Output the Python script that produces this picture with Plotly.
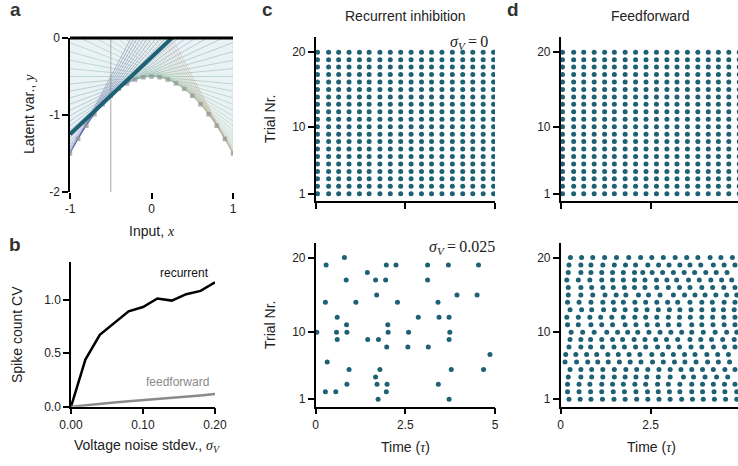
import numpy as np
import plotly.graph_objects as go

W, H = 738, 466

# ---------------- DATA ----------------
# Panel a: theoretical curve y = -0.5 - x^2, tangent points, highlighted input
tangent_points = [-1.0, -0.95, -0.9, -0.85, -0.8, -0.75, -0.7, -0.65, -0.6, -0.55, -0.5,
                  -0.45, -0.4, -0.35, -0.3, -0.25, -0.2, -0.15, -0.1, -0.05, 0.0,
                  0.05, 0.1, 0.15, 0.2, 0.25, 0.3, 0.35, 0.4, 0.45, 0.5,
                  0.55, 0.6, 0.65, 0.7, 0.75, 0.8, 0.85, 0.9, 0.95, 1.0]
curve_dots_x = [-1.0, -0.9, -0.8, -0.7, -0.6, -0.5, -0.4, -0.3, -0.2, -0.1, 0.0,
                0.1, 0.2, 0.3, 0.4, 0.5, 0.6, 0.7, 0.8, 0.9, 1.0]
highlight_x = -0.5

# Panel b
noise_sd = [0.0, 0.02, 0.04, 0.06, 0.08, 0.10, 0.12, 0.14, 0.16, 0.18, 0.20]
cv_recurrent = [0.0, 0.44, 0.67, 0.78, 0.89, 0.93, 1.01, 0.99, 1.05, 1.08, 1.16]
cv_feedforward = [0.0, 0.015, 0.028, 0.04, 0.05, 0.06, 0.07, 0.08, 0.09, 0.105, 0.118]

# Panels c/d top: regular spiking (sigma_V = 0), same times on all 20 trials
regular_times = [0.05, 0.36, 0.64, 0.93, 1.22, 1.49, 1.79, 2.08, 2.37, 2.66,
                 2.95, 3.23, 3.52, 3.81, 4.10, 4.38, 4.67, 4.96]
trials = list(range(1, 21))

# Panel c bottom: recurrent, sigma_V = 0.025 (spike times per trial)
rec_noisy = {
    20: [0.80],
    19: [0.29, 1.97, 2.24, 3.12, 3.70, 4.54],
    18: [1.44],
    17: [0.85, 1.67, 1.95, 3.12],
    15: [1.70, 3.94, 4.50],
    14: [0.27, 1.12, 2.28, 3.41],
    12: [0.60, 2.86, 3.44, 3.72],
    11: [0.86, 2.01],
    10: [0.03, 0.58, 0.87, 2.02, 2.59, 3.74],
    9: [0.60, 1.45, 1.75, 3.72],
    8: [1.98, 2.57, 3.14],
    7: [4.86],
    6: [0.32],
    5: [0.93, 1.79, 3.78, 4.68],
    4: [1.67],
    3: [0.87, 1.71, 1.99, 3.42],
    2: [0.27, 0.56, 1.97],
    1: [1.74, 3.72],
}

# Panel d bottom: feedforward, sigma_V = 0.025 (spike times per trial)
ff_noisy = {
    20: [0.27, 0.58, 0.89, 1.22, 1.55, 1.89, 2.22, 2.53, 2.85, 3.18, 3.50, 3.81, 4.15, 4.45, 4.77],
    19: [0.23, 0.56, 0.84, 1.17, 1.49, 1.80, 2.08, 2.42, 2.72, 3.01, 3.31, 3.59, 3.89, 4.24, 4.54, 4.84],
    18: [0.21, 0.56, 0.84, 1.14, 1.44, 1.74, 2.05, 2.28, 2.54, 2.83, 3.13, 3.43, 3.72, 4.03, 4.32, 4.62],
    17: [0.17, 0.49, 0.81, 1.14, 1.44, 1.74, 2.05, 2.34, 2.66, 2.95, 3.22, 3.55, 3.85, 4.17, 4.47, 4.75],
    16: [0.21, 0.56, 0.86, 1.17, 1.46, 1.77, 2.05, 2.34, 2.67, 2.99, 3.30, 3.59, 3.92, 4.22, 4.53, 4.84],
    15: [0.21, 0.56, 0.89, 1.23, 1.54, 1.81, 2.16, 2.44, 2.76, 3.13, 3.44, 3.73, 4.01, 4.31, 4.61, 4.89],
    14: [0.19, 0.51, 0.84, 1.17, 1.46, 1.74, 2.06, 2.36, 2.67, 2.97, 3.25, 3.59, 3.92, 4.21, 4.54, 4.84],
    13: [0.26, 0.58, 0.86, 1.19, 1.49, 1.79, 2.09, 2.40, 2.71, 3.02, 3.31, 3.62, 3.92, 4.24, 4.52, 4.82],
    12: [0.17, 0.49, 0.81, 1.11, 1.42, 1.74, 2.06, 2.36, 2.67, 2.99, 3.30, 3.60, 3.92, 4.22, 4.53, 4.84],
    11: [0.19, 0.49, 0.84, 1.14, 1.44, 1.79, 2.09, 2.40, 2.69, 2.99, 3.29, 3.64, 3.92, 4.23, 4.54, 4.84],
    10: [0.29, 0.61, 0.93, 1.28, 1.58, 1.86, 2.14, 2.45, 2.76, 3.06, 3.36, 3.64, 3.96, 4.29, 4.61, 4.89],
    9: [0.26, 0.56, 0.83, 1.14, 1.44, 1.72, 2.04, 2.34, 2.64, 2.94, 3.25, 3.59, 3.89, 4.19, 4.50, 4.82],
    8: [0.23, 0.56, 0.83, 1.16, 1.48, 1.77, 2.08, 2.36, 2.69, 2.99, 3.30, 3.62, 3.92, 4.24, 4.55, 4.84],
    7: [0.14, 0.42, 0.72, 1.00, 1.31, 1.60, 1.90, 2.20, 2.53, 2.83, 3.13, 3.44, 3.73, 4.06, 4.36, 4.66],
    6: [0.12, 0.44, 0.75, 1.03, 1.32, 1.63, 1.93, 2.23, 2.55, 2.85, 3.16, 3.45, 3.76, 4.08, 4.38, 4.69],
    5: [0.26, 0.56, 0.86, 1.17, 1.49, 1.81, 2.11, 2.42, 2.73, 3.04, 3.34, 3.64, 3.94, 4.24, 4.56, 4.84],
    4: [0.21, 0.56, 0.86, 1.17, 1.49, 1.79, 2.09, 2.39, 2.71, 3.04, 3.41, 3.69, 4.01, 4.33, 4.64],
    3: [0.19, 0.51, 0.81, 1.14, 1.44, 1.74, 2.06, 2.36, 2.69, 2.99, 3.31, 3.64, 3.94, 4.24, 4.55, 4.84],
    2: [0.19, 0.51, 0.83, 1.14, 1.46, 1.77, 2.09, 2.41, 2.71, 3.02, 3.31, 3.64, 3.94, 4.26, 4.56, 4.89],
    1: [0.23, 0.54, 0.84, 1.16, 1.48, 1.79, 2.11, 2.42, 2.73, 3.04, 3.36, 3.66, 3.96, 4.27, 4.58, 4.89],
}

# ---------------- STYLE ----------------
TEAL = '#1e6175'
FONT = 'Liberation Sans'
SERIF = 'Liberation Serif'


def px_x(p):
    return p / W


def px_y(p):
    return 1 - p / H


def curve(x):
    return -0.5 - np.asarray(x) ** 2


def tangent(x0, x):
    x = np.asarray(x)
    return -0.5 - x0 ** 2 - 2 * x0 * (x - x0)


def lerp_color(v):
    stops = [(-1.0, (70, 70, 150)), (-0.5, (105, 115, 180)), (0.0, (110, 175, 135)),
             (0.5, (165, 190, 140)), (1.0, (190, 150, 135))]
    for (a, ca), (b, cb) in zip(stops[:-1], stops[1:]):
        if a <= v <= b:
            f = (v - a) / (b - a)
            return tuple(int(ca[i] + f * (cb[i] - ca[i])) for i in range(3))
    return stops[-1][1]


fig = go.Figure()

# ---------- Panel a ----------
xs = np.linspace(-1, 1, 201)
fx = list(xs) + [1, -1]
fy = list(curve(xs)) + [0, 0]
fig.add_trace(go.Scatter(x=fx, y=fy, fill='toself', fillcolor='#e9f2f5', mode='lines',
                         line=dict(color='#d3e5ec', width=1), xaxis='x', yaxis='y',
                         hoverinfo='skip', showlegend=False))
fig.add_trace(go.Scatter(x=[highlight_x, highlight_x], y=[-2, 0], mode='lines',
                         line=dict(color='#b8b8b8', width=1.2), xaxis='x', yaxis='y',
                         showlegend=False))
ends = np.array([-1.0, 1.0])
for x0 in tangent_points:
    r, g, b = lerp_color(x0)
    fig.add_trace(go.Scatter(x=ends, y=tangent(x0, ends), mode='lines',
                             line=dict(color=f'rgba({r},{g},{b},0.38)', width=1),
                             xaxis='x', yaxis='y', showlegend=False))
fig.add_trace(go.Scatter(x=curve_dots_x, y=curve(curve_dots_x), mode='markers',
                         marker=dict(color='rgba(150,150,150,0.75)', size=4.5, symbol='square'),
                         xaxis='x', yaxis='y', showlegend=False))
fig.add_trace(go.Scatter(x=ends, y=tangent(highlight_x, ends), mode='lines',
                         line=dict(color=TEAL, width=4), xaxis='x', yaxis='y',
                         showlegend=False))

# ---------- Panel b ----------
fig.add_trace(go.Scatter(x=noise_sd, y=cv_recurrent, mode='lines',
                         line=dict(color='black', width=2.5), xaxis='x2', yaxis='y2',
                         showlegend=False))
fig.add_trace(go.Scatter(x=noise_sd, y=cv_feedforward, mode='lines',
                         line=dict(color='#8a8a8a', width=2.5), xaxis='x2', yaxis='y2',
                         showlegend=False))


def raster_trace(times_by_trial, xa, ya):
    xx, yy = [], []
    for tr, ts in times_by_trial.items():
        xx += list(ts)
        yy += [tr] * len(ts)
    return go.Scatter(x=xx, y=yy, mode='markers',
                      marker=dict(color=TEAL, size=5, line=dict(width=0)),
                      xaxis=xa, yaxis=ya, showlegend=False)


regular = {tr: regular_times for tr in trials}
fig.add_trace(raster_trace(regular, 'x3', 'y3'))
fig.add_trace(raster_trace(rec_noisy, 'x4', 'y4'))
fig.add_trace(raster_trace(regular, 'x5', 'y5'))
fig.add_trace(raster_trace(ff_noisy, 'x6', 'y6'))

# ---------- Layout ----------
tickfont = dict(family=FONT, size=12, color='#222')
common = dict(showgrid=False, zeroline=False, showline=True, linecolor='black', linewidth=1.5,
              ticks='outside', ticklen=6, tickwidth=1.5, tickcolor='black', tickfont=tickfont,
              fixedrange=True)

dom_a_x = [px_x(70), px_x(233)]
dom_a_y = [px_y(192), px_y(38)]
dom_b_x = [px_x(71), px_x(215)]
dom_b_y = [px_y(406.7), px_y(262)]
dom_c_x = [px_x(315.7), px_x(495)]
dom_d_x = [px_x(560.7), 1.0]
dom_top_y = [px_y(201.2), px_y(37.3)]
dom_bot_y = [px_y(406.7), px_y(242.7)]

trial_ticks = dict(tickvals=[1, 10, 20], ticktext=['1', '10', '20'], range=[0, 22])
time_ticks = dict(tickvals=[0, 2.5, 5], ticktext=['0', '2.5', '5'])

fig.update_layout(
    width=W, height=H, margin=dict(l=0, r=0, t=0, b=0, autoexpand=False),
    paper_bgcolor='white', plot_bgcolor='white', showlegend=False,
    xaxis=dict(common, domain=dom_a_x, anchor='y', range=[-1, 1], showline=False,
               tickvals=[-1, 0, 1], ticktext=['-1', '0', '1']),
    yaxis=dict(common, domain=dom_a_y, anchor='x', range=[-2, 0],
               tickvals=[-2, -1, 0], ticktext=['-2', '-1', '0']),
    xaxis2=dict(common, domain=dom_b_x, anchor='y2', range=[0, 0.2],
                tickvals=[0, 0.1, 0.2], ticktext=['0.00', '0.10', '0.20']),
    yaxis2=dict(common, domain=dom_b_y, anchor='x2', range=[0, 1.35],
                tickvals=[0, 0.5, 1.0], ticktext=['0.0', '0.5', '1.0']),
    xaxis3=dict(common, domain=dom_c_x, anchor='y3', range=[0, 5], showticklabels=False,
                **time_ticks),
    yaxis3=dict(common, domain=dom_top_y, anchor='x3', **trial_ticks),
    xaxis4=dict(common, domain=dom_c_x, anchor='y4', range=[0, 5], **time_ticks),
    yaxis4=dict(common, domain=dom_bot_y, anchor='x4', **trial_ticks),
    xaxis5=dict(common, domain=dom_d_x, anchor='y5', range=[0, 4.925], showticklabels=False,
                **time_ticks),
    yaxis5=dict(common, domain=dom_top_y, anchor='x5', **trial_ticks),
    xaxis6=dict(common, domain=dom_d_x, anchor='y6', range=[0, 4.925], **time_ticks),
    yaxis6=dict(common, domain=dom_bot_y, anchor='x6', **trial_ticks),
)

# thick top boundary line of panel a (y = 0)
fig.add_shape(type='line', xref='x', yref='paper', x0=-1, x1=1,
              y0=dom_a_y[1], y1=dom_a_y[1], line=dict(color='black', width=3))

anns = []


def ann(text, x, y, size=14, color='#222', family=FONT, angle=0, xanchor='center'):
    anns.append(dict(text=text, x=px_x(x), y=px_y(y), xref='paper', yref='paper',
                     showarrow=False, xanchor=xanchor, yanchor='middle', textangle=angle,
                     font=dict(family=family, size=size, color=color)))


def it(s):
    return f"<span style='font-family:{SERIF}'><i>{s}</i></span>"


sigV = it('σ') + f"<sub>{it('V')}</sub>"

# panel letters
ann('<b>a</b>', 15, 10, size=19, color='#333')
ann('<b>b</b>', 15, 244, size=19, color='#333')
ann('<b>c</b>', 267, 10, size=19, color='#333')
ann('<b>d</b>', 513, 9, size=19, color='#333')
# titles
ann('Recurrent inhibition', 405, 16, size=14)
ann('Feedforward', 650, 16, size=14)
# axis titles
ann('Latent var., ' + it('y'), 29, 114, size=14, angle=-90)
ann('Input, ' + it('x'), 152, 231, size=14)
ann('Spike count CV', 17, 335, size=14, angle=-90)
ann('Voltage noise stdev., ' + sigV, 147, 446, size=14)
ann('Trial Nr.', 270, 119, size=14, angle=-90)
ann('Trial Nr.', 270, 325, size=14, angle=-90)
ann('Time (' + it('τ') + ')', 405, 447, size=14)
ann('Time (' + it('τ') + ')', 651, 447, size=14)
# line labels
ann('recurrent', 185, 273, size=12, color='#111')
ann('feedforward', 177, 382, size=12, color='#8a8a8a')
# noise annotations
ann(sigV + "<span style='font-family:Liberation Serif'>\u2009=\u20090</span>", 469, 43,
    size=16, family=SERIF)
ann(sigV + "<span style='font-family:Liberation Serif'>\u2009=\u20090.025</span>", 462, 247,
    size=16, family=SERIF)

fig.update_layout(annotations=anns)
fig.write_html('out.html', post_script="document.body.style.margin='0px';")
